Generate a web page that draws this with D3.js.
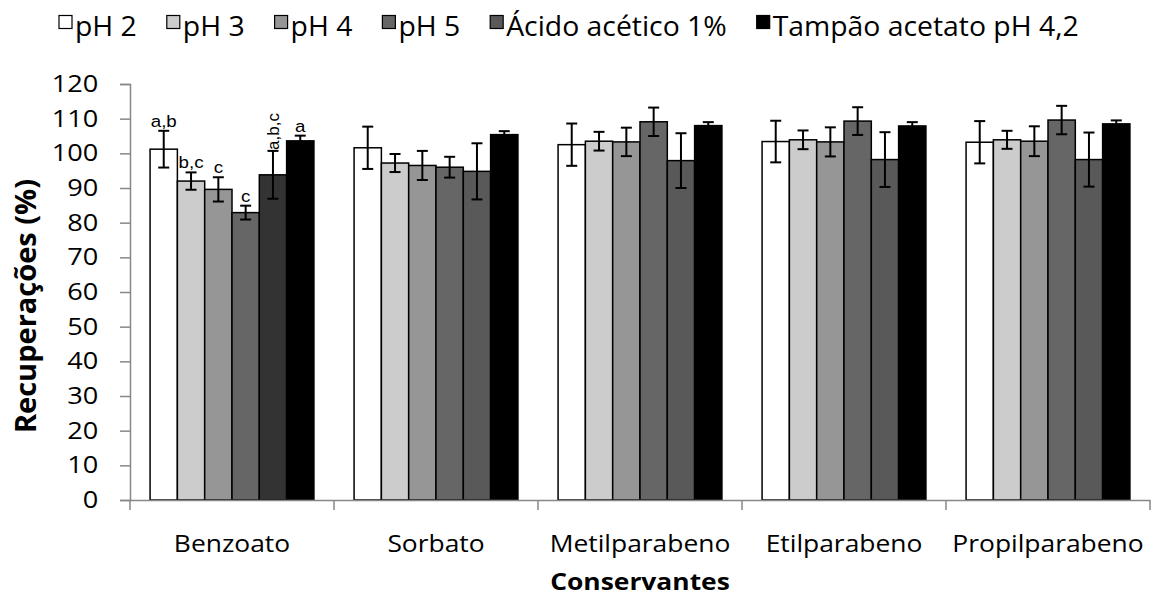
<!DOCTYPE html>
<html>
<head>
<meta charset="utf-8">
<script src="https://cdn.jsdelivr.net/npm/d3@7"></script>
<style>
  html, body { margin: 0; padding: 0; background: #fff; }
  svg { display: block; }
  text { fill: #000; }
</style>
</head>
<body>
<svg id="chart" width="1154" height="600"></svg>
<script>
// Recovery (%) of preservatives under different extraction conditions
const categories = ["Benzoato", "Sorbato", "Metilparabeno", "Etilparabeno", "Propilparabeno"];
const seriesNames = ["pH 2", "pH 3", "pH 4", "pH 5", "Ácido acético 1%", "Tampão acetato pH 4,2"];

// mean recoveries, one array per series (same order as categories)
const ph2Values     = [101.2, 101.6, 102.5, 103.4, 103.2];
const ph3Values     = [92.0, 97.2, 103.5, 103.9, 103.9];
const ph4Values     = [89.6, 96.5, 103.3, 103.3, 103.5];
const ph5Values     = [82.9, 96.0, 109.1, 109.3, 109.6];
const acidoValues   = [93.8, 94.8, 97.9, 98.2, 98.2];
const tampaoValues  = [103.6, 105.4, 108.0, 107.9, 108.5];

// standard deviations
const ph2Errors     = [5.3, 6.1, 6.1, 6.0, 6.1];
const ph3Errors     = [2.5, 2.6, 2.7, 2.7, 2.6];
const ph4Errors     = [3.5, 4.2, 4.1, 4.2, 4.3];
const ph5Errors     = [2.0, 3.0, 4.1, 4.0, 4.1];
const acidoErrors   = [6.9, 8.1, 7.9, 7.9, 7.8];
const tampaoErrors  = [1.5, 1.0, 1.0, 1.1, 1.0];

// significance letters (Tukey) for benzoate
const benzoatoLetters = ["a,b", "b,c", "c", "c", "a,b,c", "a"];

const yTicks = [0, 10, 20, 30, 40, 50, 60, 70, 80, 90, 100, 110, 120];

const seriesValues = [ph2Values, ph3Values, ph4Values, ph5Values, acidoValues, tampaoValues];
const seriesErrors = [ph2Errors, ph3Errors, ph4Errors, ph5Errors, acidoErrors, tampaoErrors];

// ---- styling ----
const fills = ["#ffffff", "#cccccc", "#969696", "#666666", "#595959", "#000000"];
const benzoatoAcidoFill = "#333333";
const FONT = "'Open Sans', 'Noto Sans', sans-serif";
const SX = 1.1;               // horizontal widening of text
const AXIS_GREY = "#878787";

const svg = d3.select("#chart");
const plot = { left: 130, right: 1150, top: 84, bottom: 500 };

const x0 = d3.scaleBand().domain(categories).range([plot.left, plot.right]).paddingInner(0).paddingOuter(0);
const x1 = d3.scaleBand().domain(d3.range(seriesNames.length)).range([0, x0.bandwidth()])
  .paddingInner(0).paddingOuter(0.735);
const y = d3.scaleLinear().domain([0, 120]).range([plot.bottom, plot.top]);

// rows of data
const rows = [];
categories.forEach((cat, ci) => {
  seriesNames.forEach((s, si) => {
    rows.push({ cat, ci, si, value: seriesValues[si][ci], err: seriesErrors[si][ci] });
  });
});

// ---- y axis ----
const TICK_SX = 1.18;
const yAxis = d3.axisLeft(y).tickValues(yTicks).tickSize(10).tickPadding(17).tickFormat(d3.format("d"));
const gy = svg.append("g").attr("transform", `translate(${plot.left},0)`).call(yAxis);
gy.select(".domain").attr("stroke", AXIS_GREY).attr("stroke-width", 1.5);
gy.selectAll(".tick line").attr("stroke", AXIS_GREY).attr("stroke-width", 1.5);
gy.selectAll(".tick text")
  .attr("font-family", FONT).attr("font-size", 23).attr("fill", "#000")
  .attr("transform", `scale(${TICK_SX},1)`);

// ---- bars ----
const bars = svg.append("g");
bars.selectAll("rect").data(rows).join("rect")
  .attr("x", d => x0(d.cat) + x1(d.si))
  .attr("y", d => y(d.value))
  .attr("width", x1.bandwidth())
  .attr("height", d => y(0) - y(d.value))
  .attr("fill", d => (d.ci === 0 && d.si === 4) ? benzoatoAcidoFill : fills[d.si])
  .attr("stroke", "#000")
  .attr("stroke-width", 1.5);

// ---- x axis ----
const gx = svg.append("g").attr("transform", `translate(0,${plot.bottom})`)
  .call(d3.axisBottom(x0).tickSize(0).tickPadding(35));
gx.select(".domain").attr("stroke", AXIS_GREY).attr("stroke-width", 1.5);
gx.selectAll(".tick text")
  .attr("font-family", FONT).attr("font-size", 24).attr("fill", "#000")
  .attr("transform", `scale(${SX},1)`);
// category separators
const boundaries = categories.map(c => x0(c)).concat([x0.range()[1]]);
gx.selectAll("line.sep").data(boundaries).join("line")
  .attr("class", "sep")
  .attr("x1", d => d).attr("x2", d => d)
  .attr("y1", 0).attr("y2", 10)
  .attr("stroke", AXIS_GREY).attr("stroke-width", 1.5);

// ---- error bars ----
const capHalf = 5.5;
const eb = svg.append("g").attr("stroke", "#000").attr("stroke-width", 2);
rows.forEach(d => {
  const cx = x0(d.cat) + x1(d.si) + x1.bandwidth() / 2;
  const yt = y(d.value + d.err), yb = y(d.value - d.err);
  eb.append("line").attr("x1", cx).attr("x2", cx).attr("y1", yt).attr("y2", yb);
  eb.append("line").attr("x1", cx - capHalf).attr("x2", cx + capHalf).attr("y1", yt).attr("y2", yt);
  eb.append("line").attr("x1", cx - capHalf).attr("x2", cx + capHalf).attr("y1", yb).attr("y2", yb);
});

// ---- significance letters ----
const lg = svg.append("g");
benzoatoLetters.forEach((lab, si) => {
  const cx = x0(categories[0]) + x1(si) + x1.bandwidth() / 2;
  const top = y(seriesValues[si][0] + seriesErrors[si][0]);
  if (lab.length > 3) {
    // long label is set vertically
    lg.append("text")
      .attr("transform", `translate(${cx + 6},${top - 1}) rotate(-90)`)
      .attr("font-family", "'Liberation Sans', Arial, sans-serif")
      .attr("font-size", 17)
      .attr("text-anchor", "start")
      .text(lab);
  } else {
    lg.append("text")
      .attr("transform", `translate(${cx},${top - 4}) scale(${SX},1)`)
      .attr("font-family", "'Liberation Sans', Arial, sans-serif")
      .attr("font-size", 17)
      .attr("text-anchor", "middle")
      .text(lab);
  }
});

// ---- axis titles ----
svg.append("text")
  .attr("transform", `translate(${(plot.left + plot.right) / 2},590) scale(${SX},1)`)
  .attr("font-family", FONT).attr("font-weight", "bold").attr("font-size", 24)
  .attr("text-anchor", "middle")
  .text("Conservantes");

svg.append("text")
  .attr("transform", `translate(36,306) rotate(-90)`)
  .attr("font-family", FONT).attr("font-weight", "bold").attr("font-size", 29)
  .attr("text-anchor", "middle")
  .text("Recuperações (%)");

// ---- legend ----
const LEG_SX = 1.05;
const legend = svg.append("g");
let lx = 59;
seriesNames.forEach((name, si) => {
  legend.append("rect")
    .attr("x", lx).attr("y", 15.5).attr("width", 13).attr("height", 13)
    .attr("fill", fills[si]).attr("stroke", "#000").attr("stroke-width", 1.2);
  const t = legend.append("text")
    .attr("transform", `translate(${lx + 16},36) scale(${LEG_SX},1)`)
    .attr("font-family", FONT).attr("font-size", 27)
    .text(name);
  const w = t.node().getComputedTextLength() * LEG_SX;
  lx = lx + 16 + w + 30;
});
</script>
</body>
</html>
